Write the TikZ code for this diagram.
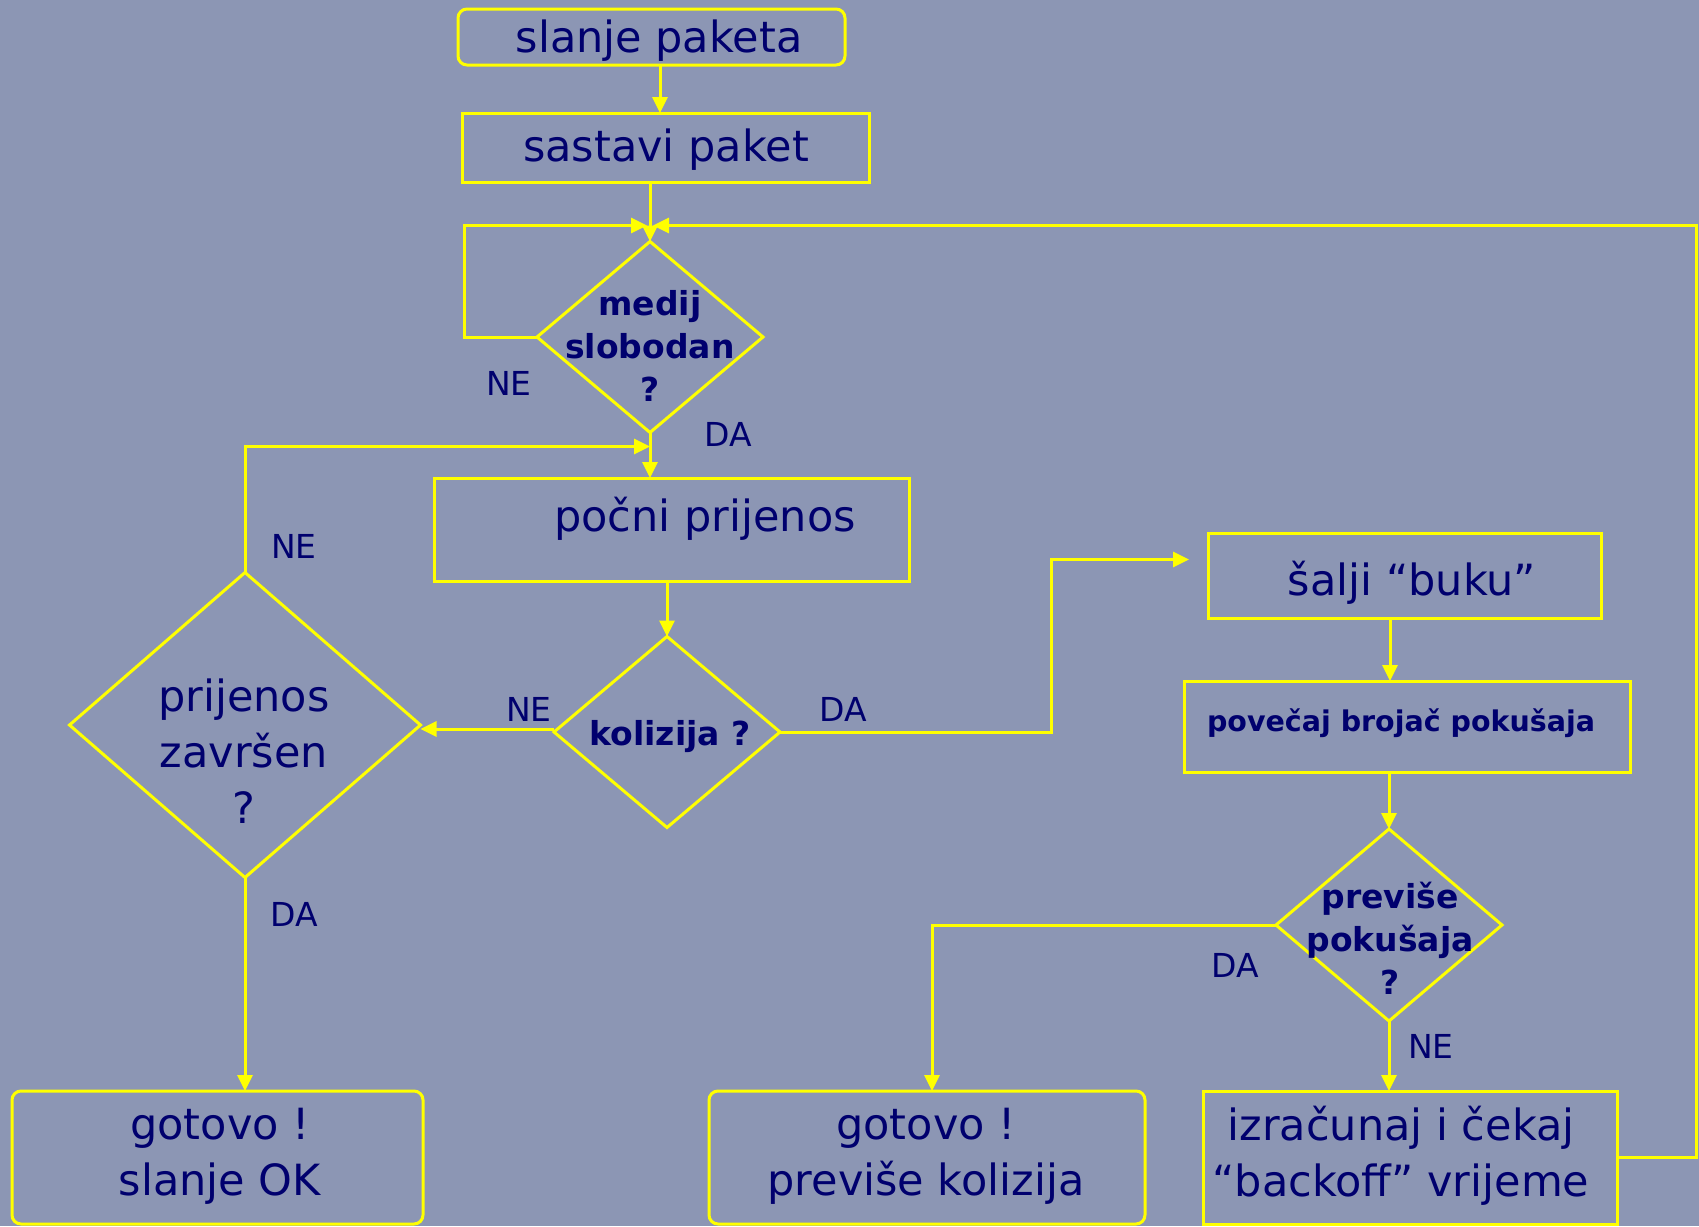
\documentclass[tikz,border=0pt]{standalone}
\usepackage{fontspec}
\setmainfont{DejaVu Sans}
\usetikzlibrary{shapes.geometric,arrows.meta,calc}
\definecolor{bg}{RGB}{140,150,180}
\definecolor{ink}{RGB}{0,0,110}
\definecolor{ylw}{RGB}{255,255,0}
\begin{document}
\begin{tikzpicture}[x=1pt,y=-1pt,
  frame/.style={draw=ylw,line width=3pt,inner sep=0pt,outer sep=0pt},
  rframe/.style={frame,rounded corners=9pt},
  dia/.style={frame,diamond,aspect=1},
  big/.style={text=ink,font=\fontsize{43}{56}\selectfont,align=center,inner sep=0pt},
  bld/.style={text=ink,font=\bfseries\fontsize{33}{43}\selectfont,align=center,inner sep=0pt},
  lbl/.style={text=ink,font=\fontsize{33}{40}\selectfont,inner sep=0pt},
  arr/.style={draw=ylw,line width=3pt,-{Triangle[length=16pt,width=15pt]}},
  ln/.style={draw=ylw,line width=3pt}]
\fill[bg] (0,0) rectangle (1699,1226);
\useasboundingbox (0,0) rectangle (1699,1226);

% boxes
\node[rframe,minimum width=387pt,minimum height=56pt] (slanje) at (651.5,37) {};
\node[frame,minimum width=407pt,minimum height=69pt] (sastavi) at (665.5,147.5) {};
\node[frame,minimum width=475pt,minimum height=103pt] (pocni) at (671.5,529.5) {};
\node[frame,minimum width=393pt,minimum height=85pt] (salji) at (1404.5,575.5) {};
\node[frame,minimum width=446pt,minimum height=91pt] (povecaj) at (1407,726.5) {};
\node[rframe,minimum width=411pt,minimum height=133pt] (gotovo1) at (217.5,1157.5) {};
\node[rframe,minimum width=436pt,minimum height=133pt] (gotovo2) at (927,1157.5) {};
\node[frame,minimum width=414pt,minimum height=133pt] (backoff) at (1410,1157.5) {};

% diamonds
\node[dia,minimum width=226pt,minimum height=191pt] (medij) at (650,337) {};
\node[dia,minimum width=351pt,minimum height=305pt] (prijenos) at (245,725) {};
\node[dia,minimum width=226pt,minimum height=191pt] (kolizija) at (667,732) {};
\node[dia,minimum width=226pt,minimum height=192pt] (previse) at (1389,925) {};

% texts
\node[big] (slanjeT) at (659,41) {slanje paketa};
\node[big] (sastaviT) at (666,150) {sastavi paket};
\node[big] (pocniT) at (705,519) {počni prijenos};
\node[big] (saljiT) at (1412,583) {šalji “buku”};
\node[text=ink,font=\bfseries\fontsize{28.5}{34}\selectfont,inner sep=0pt] (povecajT) at (1401,723) {povečaj brojač pokušaja};
\node[big] (gotovo1T) at (220,1156) {gotovo !\\slanje OK};
\node[big] (gotovo2T) at (926,1156) {gotovo !\\previše kolizija};
\node[big] (backoffT) at (1401,1156) {izračunaj i čekaj\\“backoff” vrijeme};
\node[bld] (medijT) at (650,346) {medij\\slobodan\\?};
\node[big] (prijenosT) at (244,751) {prijenos\\završen\\?};
\node[bld] (kolizijaT) at (670,737) {kolizija ?};
\node[bld] (previseT) at (1390,938) {previše\\pokušaja\\?};

% labels
\node[lbl] (ne1) at (509,383) {NE};
\node[lbl] (da1) at (728,434) {DA};
\node[lbl] (ne2) at (294,546) {NE};
\node[lbl] (ne3) at (529,709) {NE};
\node[lbl] (da2) at (843,709) {DA};
\node[lbl] (da3) at (294,914) {DA};
\node[lbl] (da4) at (1235,965) {DA};
\node[lbl] (ne4) at (1431,1046) {NE};

% junctions
\coordinate (join) at ($(medij.north)+(0,-16)$);
\coordinate (join2) at ($(medij.south)+(0,14)$);

% connectors
\draw[arr] ($(slanje.south)+(8.5,0)$) -- ($(sastavi.north)+(-5.5,0)$);
\draw[arr] (sastavi.south -| medij.north) -- (medij.north);
\draw[arr] (medij.west) -- ++(-73,0) |- ($(join)+(-3,0)$);
\draw[arr] (backoff.east) -- ++(79,0) |- ($(join)+(3,0)$);
\draw[arr] (medij.south) -- (medij.south |- pocni.north);
\draw[arr] (prijenos.north) |- (join2);
\draw[arr] (pocni.south -| kolizija.north) -- (kolizija.north);
\draw[arr] ($(kolizija.west)+(0,-3)$) -- ($(kolizija.west -| prijenos.east)+(0,-3)$);
\draw[arr] (kolizija.east) -- ++(271,0) |- ($(salji.west)+(-19,-16)$);
\draw[arr] ($(salji.south)+(-14.5,0)$) -- ($(povecaj.north)+(-17,0)$);
\draw[arr] (povecaj.south -| previse.north) -- (previse.north);
\draw[arr] (previse.west) -| ($(gotovo2.north)+(5,0)$);
\draw[arr] (previse.south) -- (previse.south |- backoff.north);
\draw[arr] (prijenos.south) -- (prijenos.south |- gotovo1.north);
\end{tikzpicture}
\end{document}
